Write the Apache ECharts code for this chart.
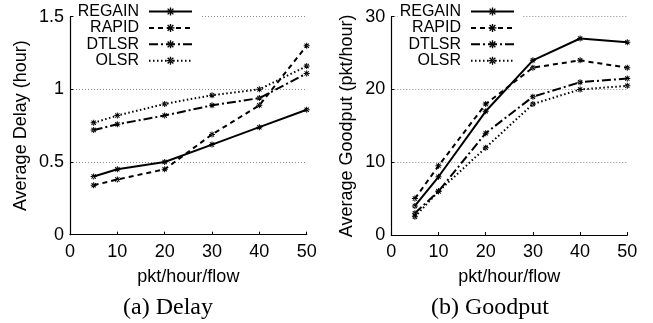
<!DOCTYPE html>
<html>
<head>
<meta charset="utf-8">
<script src="https://cdn.jsdelivr.net/npm/echarts@6/dist/echarts.min.js"></script>
<style>html,body{margin:0;padding:0;background:#fff}#c{width:653px;height:323px}</style>
</head>
<body>
<div id="c"></div>
<script>
var xValues = [5, 10, 20, 30, 40, 50];
var seriesNames = ['REGAIN', 'RAPID', 'DTLSR', 'OLSR'];
var delayREGAIN = [0.40, 0.45, 0.50, 0.62, 0.74, 0.86];
var delayRAPID  = [0.34, 0.38, 0.45, 0.69, 0.89, 1.30];
var delayDTLSR  = [0.72, 0.76, 0.82, 0.89, 0.94, 1.11];
var delayOLSR   = [0.77, 0.82, 0.90, 0.96, 1.00, 1.16];
var goodREGAIN = [4.0, 8.0, 17.0, 24.0, 27.0, 26.5];
var goodRAPID  = [5.0, 9.5, 18.0, 23.0, 24.0, 23.0];
var goodDTLSR  = [3.0, 6.0, 14.0, 19.0, 21.0, 21.5];
var goodOLSR   = [2.5, 6.0, 12.0, 18.0, 20.0, 20.5];
var captions = ['(a) Delay', '(b) Goodput'];

var SANS = 'Liberation Sans, Arial, Helvetica, sans-serif';
var SERIF = 'Liberation Serif, Times New Roman, serif';
var star = 'path://M-0.5,-3h1v6h-1z M-3,-0.5h6v1h-6z M-2.5,-1.8L-1.8,-2.5L2.5,1.8L1.8,2.5Z M2.5,-1.8L1.8,-2.5L-2.5,1.8L-1.8,2.5Z';
var dashes = ['solid', [5, 4], [9, 3, 2, 3], [1.5, 2.5]];
var widths = [2, 2, 2, 2];

function pairs(vals) { return xValues.map(function (x, i) { return [x, vals[i]]; }); }

var delayData = [delayREGAIN, delayRAPID, delayDTLSR, delayOLSR];
var goodData = [goodREGAIN, goodRAPID, goodDTLSR, goodOLSR];

var series = [];
function addSeries(data, idx) {
  data.forEach(function (vals, i) {
    series.push({
      name: seriesNames[i], type: 'line', xAxisIndex: idx, yAxisIndex: idx,
      data: pairs(vals), symbol: star, symbolSize: 6, showSymbol: true,
      lineStyle: { color: '#000', width: widths[i], type: dashes[i] },
      itemStyle: { color: '#000' }, animation: false, z: 3
    });
  });
}
addSeries(delayData, 0);
addSeries(goodData, 1);

function xAx(idx) {
  return {
    type: 'value', gridIndex: idx, min: 0, max: 50, interval: 10,
    name: 'pkt/hour/flow', nameLocation: 'middle', nameGap: 33,
    nameTextStyle: { fontFamily: SANS, fontSize: 18, color: '#000' },
    axisLine: { show: true, onZero: false, lineStyle: { color: '#000', width: 1.2 } },
    axisTick: { show: true, inside: true, length: 3, lineStyle: { color: '#000' } },
    axisLabel: { fontFamily: SANS, fontSize: 18, color: '#000', margin: 8 },
    splitLine: { show: false }
  };
}
function yAx(idx, max, interval, name, gap) {
  return {
    type: 'value', gridIndex: idx, min: 0, max: max, interval: interval,
    name: name, nameLocation: 'middle', nameGap: gap,
    nameTextStyle: { fontFamily: SANS, fontSize: 18, color: '#000' },
    axisLine: { show: true, lineStyle: { color: '#000', width: 1.2 } },
    axisTick: { show: true, inside: true, length: 3, lineStyle: { color: '#000' } },
    axisLabel: { fontFamily: SANS, fontSize: 18, color: '#000', margin: 6 },
    splitLine: { show: true, lineStyle: { color: '#888', width: 1, type: [1, 2] } }
  };
}
function legend(right) {
  return {
    data: seriesNames.map(function (n) { return { name: n }; }),
    orient: 'vertical', align: 'right', right: right, top: 0,
    padding: [3.5, 7, 1, 2], itemGap: 0.4, itemWidth: 43, itemHeight: 10,
    backgroundColor: '#fff', z: 10,
    textStyle: { fontFamily: SANS, fontSize: 16, color: '#000', lineHeight: 16, padding: [0, 5, 0, 0] }
  };
}

var option = {
  backgroundColor: '#fff',
  animation: false,
  grid: [
    { left: 70, top: 16.7, width: 236.7, height: 218 },
    { left: 391.3, top: 16.7, width: 236, height: 218.3 }
  ],
  xAxis: [xAx(0), xAx(1)],
  yAxis: [
    yAx(0, 1.5, 0.5, 'Average Delay (hour)', 40),
    yAx(1, 30, 10, 'Average Goodput (pkt/hour)', 35)
  ],
  legend: [legend(453), legend(131)],
  series: series,
  graphic: [
    { type: 'text', x: 168, y: 308, style: { text: captions[0], font: '24px ' + SERIF, fill: '#000', textAlign: 'center', textVerticalAlign: 'middle' } },
    { type: 'text', x: 490, y: 308, style: { text: captions[1], font: '24px ' + SERIF, fill: '#000', textAlign: 'center', textVerticalAlign: 'middle' } }
  ]
};

var chart = echarts.init(document.getElementById('c'), null, { renderer: 'canvas' });
chart.setOption(option);
</script>
</body>
</html>
